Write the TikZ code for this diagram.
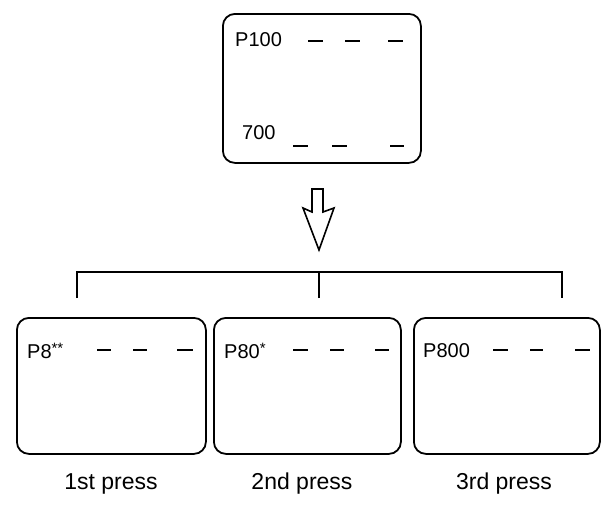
\documentclass[tikz,border=0pt]{standalone}
\usepackage{fontspec}
\setmainfont{Liberation Sans}
\newcommand{\starmark}[1]{\raisebox{4.5pt}{\fontsize{15}{15}\selectfont #1}}
\begin{document}
\begin{tikzpicture}[x=1pt,y=-1pt,
    screen/.style={draw, line width=1.8pt, rounded corners=12pt, anchor=north west, inner sep=0pt},
    readout/.style={anchor=west, inner sep=0pt, font=\fontsize{20}{24}\selectfont},
    caption/.style={anchor=base, inner sep=0pt, font=\fontsize{23}{27}\selectfont},
    dashline/.style={line width=2pt}]
\useasboundingbox (0,0) rectangle (614,506);
% display before the key is pressed
\node[screen, minimum width=198pt, minimum height=149pt](top) at (222,13){};
\node[readout](p100) at (235,40){P100};
\node[readout](p700) at (242,133){700};
\foreach \a/\b in {308/323, 345/360, 388/403}
    \draw[dashline] (\a,41) -- (\b,41);
\foreach \a/\b in {293/308, 332/347, 390/404}
    \draw[dashline] (\a,146) -- (\b,146);
% hollow arrow
\draw[line width=1.6pt, line join=miter] (312,189) -- (323,189) -- (323,212) -- (334,208) -- (319,250) -- (303,208) -- (312,212) -- cycle;
% displays after each press
\node[screen, minimum width=189pt, minimum height=136pt](s1) at (16,317){};
\node[screen, minimum width=187pt, minimum height=136pt](s2) at (213,317){};
\node[screen, minimum width=186pt, minimum height=136pt](s3) at (413,317){};
\node[readout](r1) at (27,351){P8\starmark{**}};
\node[readout](r2) at (224,351){P80\starmark{*}};
\node[readout](r3) at (423,351){P800};
\foreach \a/\b in {97/111, 133/147, 177/193, 293/308, 330/344, 375/389, 493/508, 530/543, 575/590}
    \draw[dashline] (\a,350) -- (\b,350);
\node[caption](c1) at (111,489){1st press};
\node[caption](c2) at (302,489){2nd press};
\node[caption](c3) at (504,489){3rd press};
% bracket
\coordinate (b1) at (77,298);
\coordinate (b2) at (319,298);
\coordinate (b3) at (562,298);
\draw[line width=1.8pt] (b1) -- (b1 |- 0,272) -- (b3 |- 0,272) -- (b3);
\draw[line width=1.8pt] (b2) -- (b2 |- 0,272);
\end{tikzpicture}
\end{document}
